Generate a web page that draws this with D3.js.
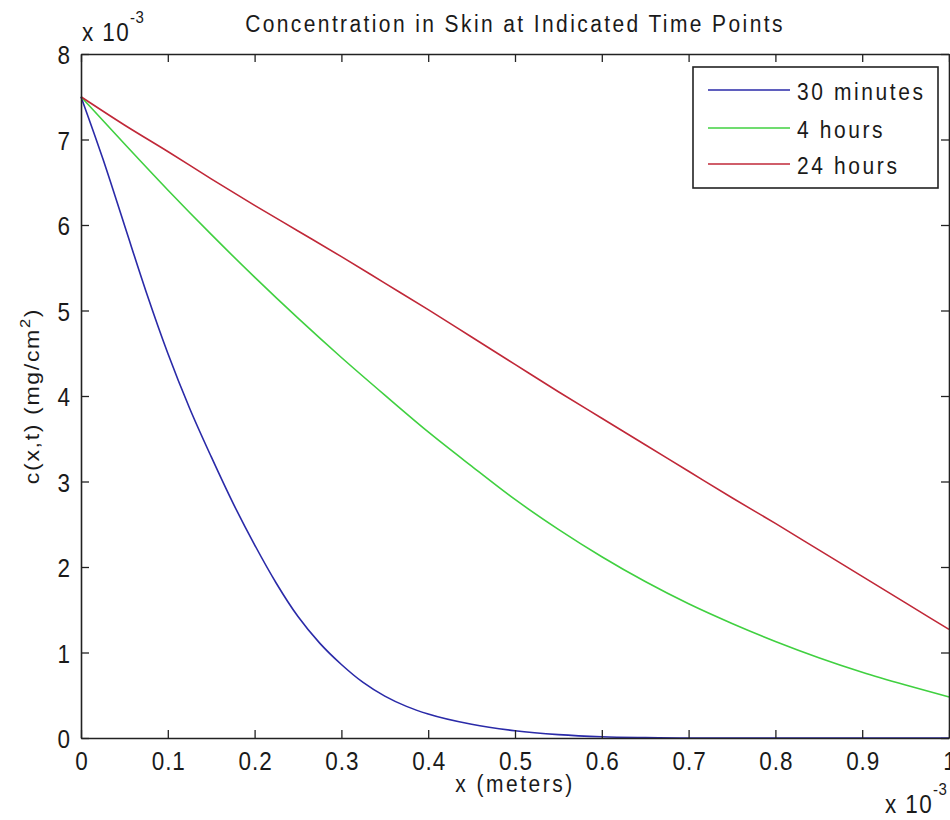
<!DOCTYPE html>
<html>
<head>
<meta charset="utf-8">
<script src="https://cdn.jsdelivr.net/npm/d3@7"></script>
<style>
  html, body { margin: 0; padding: 0; background: #fff; }
  svg { display: block; }
  text { font-family: "Liberation Sans", Arial, Helvetica, sans-serif; fill: #1a1a1a; }
</style>
</head>
<body>
<svg id="chart" width="950" height="820"></svg>
<script>
// ---- data (x in units of 1e-3 m, concentration in units of 1e-3 mg/cm^2) ----
const seriesNames = ["30 minutes", "4 hours", "24 hours"];
const seriesColors = ["#2a2aa8", "#40d040", "#c02838"];

const xBlue = [0, 0.025, 0.05, 0.075, 0.1, 0.125, 0.15, 0.175, 0.2, 0.225, 0.25, 0.275, 0.3, 0.325, 0.35, 0.375, 0.4, 0.45, 0.5, 0.55, 0.6, 0.65, 0.7, 0.8, 0.9, 1.0];
const yBlue = [7.5, 6.78, 6.0, 5.22, 4.5, 3.86, 3.29, 2.75, 2.26, 1.81, 1.42, 1.11, 0.86, 0.65, 0.49, 0.37, 0.28, 0.16, 0.085, 0.04, 0.015, 0.005, 0, 0, 0, 0];

const xGreen = [0, 0.05, 0.1, 0.15, 0.2, 0.25, 0.3, 0.35, 0.4, 0.45, 0.5, 0.55, 0.6, 0.65, 0.7, 0.75, 0.8, 0.85, 0.9, 0.95, 1.0];
const yGreen = [7.5, 6.95, 6.41, 5.89, 5.39, 4.91, 4.45, 4.01, 3.58, 3.18, 2.79, 2.44, 2.12, 1.83, 1.57, 1.34, 1.13, 0.94, 0.77, 0.62, 0.48];

const xRed = [0, 0.05, 0.1, 0.15, 0.2, 0.25, 0.3, 0.35, 0.4, 0.45, 0.5, 0.55, 0.6, 0.65, 0.7, 0.75, 0.8, 0.85, 0.9, 0.95, 1.0];
const yRed = [7.5, 7.17, 6.86, 6.54, 6.23, 5.93, 5.63, 5.32, 5.01, 4.69, 4.37, 4.05, 3.74, 3.43, 3.12, 2.81, 2.51, 2.2, 1.89, 1.58, 1.27];

const xTicks = [0, 0.1, 0.2, 0.3, 0.4, 0.5, 0.6, 0.7, 0.8, 0.9, 1];
const yTicks = [0, 1, 2, 3, 4, 5, 6, 7, 8];
const xTickLabels = ["0", "0.1", "0.2", "0.3", "0.4", "0.5", "0.6", "0.7", "0.8", "0.9", "1"];
const yTickLabels = ["0", "1", "2", "3", "4", "5", "6", "7", "8"];

const titleText = "Concentration in Skin at Indicated Time Points";
const xLabelText = "x (meters)";

// ---- layout ----
const L = 81, R = 949, T = 54, B = 738;
const svg = d3.select("#chart");

const x = d3.scaleLinear().domain([0, 1]).range([L, R]);
const y = d3.scaleLinear().domain([0, 8]).range([B, T]);

const series = [
  { name: seriesNames[0], color: seriesColors[0], xs: xBlue, ys: yBlue },
  { name: seriesNames[1], color: seriesColors[1], xs: xGreen, ys: yGreen },
  { name: seriesNames[2], color: seriesColors[2], xs: xRed, ys: yRed }
];

// text styles: [font size, vertical stretch, letter spacing]
const TICK = [22.5, 1.15, 0.9];
const LAB = [21, 1.12, 2.5];

// plot background
svg.append("rect").attr("x", L).attr("y", T).attr("width", R - L).attr("height", B - T)
  .attr("fill", "#fff");

// lines
const line = d3.line().x(d => x(d[0])).y(d => y(d[1])).curve(d3.curveMonotoneX);
const lineG = svg.append("g");
series.forEach(s => {
  const pts = s.xs.map((v, i) => [v, s.ys[i]]);
  lineG.append("path").datum(pts).attr("d", line)
    .attr("fill", "none").attr("stroke", s.color).attr("stroke-width", 1.6);
});

// axes (ticks inward, box on)
const tickLen = 8;
function styleAxis(g) {
  g.select(".domain").attr("stroke", "#222").attr("stroke-width", 1.6);
  g.selectAll(".tick line").attr("stroke", "#222").attr("stroke-width", 1.3);
}
const xBottom = svg.append("g").attr("transform", `translate(0,${B})`)
  .call(d3.axisBottom(x).tickValues(xTicks).tickSizeInner(-tickLen).tickSizeOuter(0)
    .tickFormat((d, i) => xTickLabels[i]));
styleAxis(xBottom);
xBottom.selectAll(".tick text")
  .attr("y", null).attr("dy", null)
  .attr("font-size", TICK[0]).attr("fill", "#1a1a1a").attr("font-family", null)
  .style("letter-spacing", TICK[2] + "px")
  .attr("transform", `translate(${TICK[2] / 2},32) scale(1,${TICK[1]})`);

const xTop = svg.append("g").attr("transform", `translate(0,${T})`)
  .call(d3.axisTop(x).tickValues(xTicks).tickSizeInner(-tickLen).tickSizeOuter(0).tickFormat(""));
styleAxis(xTop);

const yLeft = svg.append("g").attr("transform", `translate(${L},0)`)
  .call(d3.axisLeft(y).tickValues(yTicks).tickSizeInner(-tickLen).tickSizeOuter(0)
    .tickFormat((d, i) => yTickLabels[i]));
styleAxis(yLeft);
yLeft.selectAll(".tick text")
  .attr("x", null).attr("dy", null)
  .attr("font-size", TICK[0]).attr("fill", "#1a1a1a").attr("text-anchor", "end").attr("font-family", null)
  .attr("transform", `translate(-11,9.5) scale(1,${TICK[1]})`);

const yRight = svg.append("g").attr("transform", `translate(${R},0)`)
  .call(d3.axisRight(y).tickValues(yTicks).tickSizeInner(-tickLen).tickSizeOuter(0).tickFormat(""));
styleAxis(yRight);

// helper for stretched text
function stretchedText(px, py, anchor, st) {
  return svg.append("text")
    .attr("transform", `translate(${px},${py}) scale(1,${st[1]})`)
    .attr("text-anchor", anchor).attr("font-size", st[0])
    .style("letter-spacing", st[2] + "px");
}

// title
stretchedText((L + R) / 2, 32, "middle", [21, 1.12, 2.4]).text(titleText);

// x label
stretchedText((L + R) / 2, 792, "middle", LAB).text(xLabelText);

// exponent labels
const EXP = [22.5, 1.15, 1.4];
const expTop = stretchedText(82, 40.5, "start", EXP);
expTop.append("tspan").text("x 10");
expTop.append("tspan").attr("dy", -15.5).attr("font-size", 15).style("letter-spacing", "0.5px").text("-3");

const expBot = stretchedText(885, 813, "start", EXP);
expBot.append("tspan").text("x 10");
expBot.append("tspan").attr("dy", -15.5).attr("font-size", 15).style("letter-spacing", "0.5px").text("-3");

// y label (rotated)
const yl = svg.append("text")
  .attr("transform", `translate(39,396) scale(1,1.1) rotate(-90)`)
  .attr("text-anchor", "middle").attr("font-size", 21)
  .style("letter-spacing", "1.5px");
yl.append("tspan").text("c(x,t) (mg/cm");
yl.append("tspan").attr("dy", -9).attr("font-size", 15).text("2");
yl.append("tspan").attr("dy", 9).text(")");

// legend
const lgX = 693, lgY = 67, lgW = 245, lgH = 121;
svg.append("rect").attr("x", lgX).attr("y", lgY).attr("width", lgW).attr("height", lgH)
  .attr("fill", "#fff").attr("stroke", "#222").attr("stroke-width", 1.6);
const rowY = [90, 128, 164];
series.forEach((s, i) => {
  svg.append("line").attr("x1", 708).attr("x2", 790).attr("y1", rowY[i]).attr("y2", rowY[i])
    .attr("stroke", s.color).attr("stroke-width", 1.6);
  stretchedText(797, rowY[i] + 10, "start", [21, 1.11, 2.6]).text(s.name);
});
</script>
</body>
</html>
